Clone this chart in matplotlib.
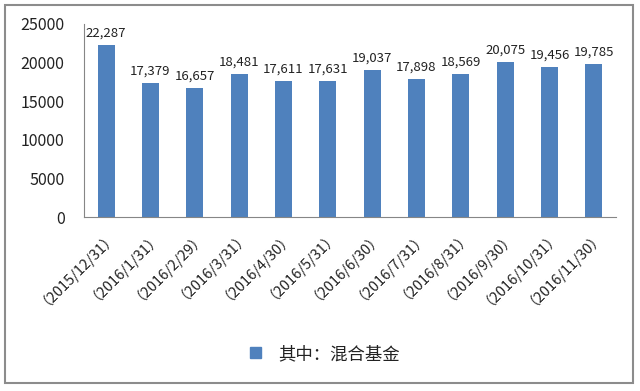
import matplotlib.pyplot as plt
import matplotlib.patches as mpatches
import numpy as np

plt.rcParams['font.family'] = ['Noto Sans CJK SC', 'DejaVu Sans']

dates = ['2015/12/31', '2016/1/31', '2016/2/29', '2016/3/31', '2016/4/30',
         '2016/5/31', '2016/6/30', '2016/7/31', '2016/8/31', '2016/9/30',
         '2016/10/31', '2016/11/30']
values = [22287, 17379, 16657, 18481, 17611, 17631, 19037, 17898, 18569,
          20075, 19456, 19785]
series_name = '其中：混合基金'

bar_color = '#4f81bd'
text_color = '#222222'

fig = plt.figure(figsize=(6.4, 3.91), dpi=100)
ax = fig.add_axes([84 / 640, 1 - 217 / 391, 532 / 640, 193 / 391])

x = np.arange(len(values))
ax.bar(x, values, width=0.39, color=bar_color, zorder=2)

for xi, v in zip(x, values):
    ax.text(xi, v + 700, '{:,}'.format(v), ha='center', va='bottom',
            fontsize=9.5, color=text_color)

ax.set_xlim(-0.5, len(values) - 0.5)
ax.set_ylim(0, 25000)
ax.set_yticks(np.arange(0, 25001, 5000))
ax.tick_params(axis='y', length=0, labelsize=11.5, labelcolor=text_color, pad=14)
ax.tick_params(axis='x', length=0, labelsize=10.5, labelcolor=text_color, pad=4)
ax.set_xticks(x)
ax.set_xticklabels(['（' + d + '）' for d in dates], rotation=45,
                   ha='right', rotation_mode='anchor')

for side in ['top', 'right']:
    ax.spines[side].set_visible(False)
ax.spines['left'].set_color('#868686')
ax.spines['bottom'].set_color('#868686')
ax.spines['left'].set_linewidth(0.8)
ax.spines['bottom'].set_linewidth(0.8)

# legend
handle = mpatches.Patch(color=bar_color, label=series_name)
fig.legend(handles=[handle], loc='center', bbox_to_anchor=(325 / 640, 1 - 354 / 391),
           frameon=False, fontsize=12.5, handlelength=0.6, handleheight=0.6,
           handletextpad=1.0, labelcolor=text_color)

# outer frame
frame = mpatches.Rectangle((5 / 640, 8 / 391), 628 / 640, 378 / 391,
                           transform=fig.transFigure, fill=False,
                           edgecolor='#8c8c8c', linewidth=1.5)
fig.patches.append(frame)

fig.savefig('out.png', dpi=100)
